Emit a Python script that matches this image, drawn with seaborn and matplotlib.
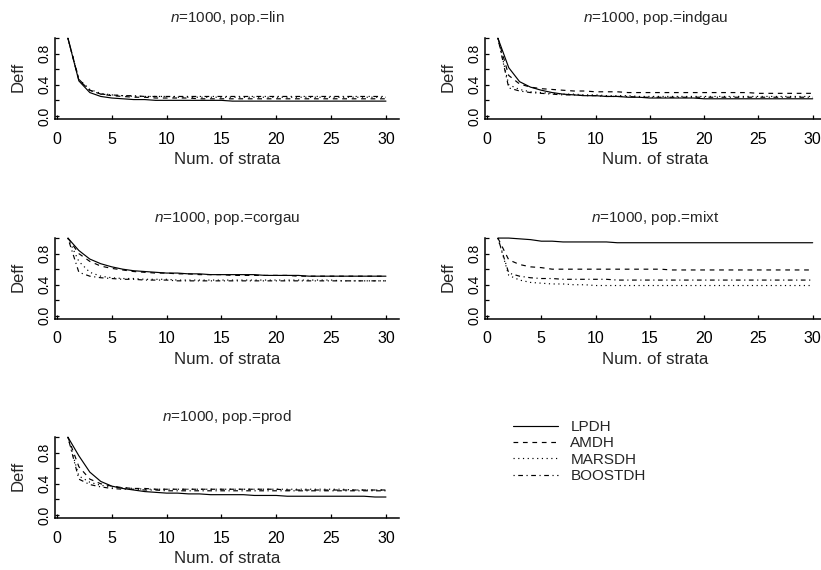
import matplotlib
matplotlib.use("Agg")
import matplotlib.pyplot as plt
from matplotlib.lines import Line2D
import seaborn as sns
import pandas as pd

strata = list(range(1, 31))
methods = ["LPDH", "AMDH", "MARSDH", "BOOSTDH"]
populations = ["lin", "indgau", "corgau", "mixt", "prod"]

# Deff per number of strata
lin_lpdh = [1.00, 0.45, 0.30, 0.25, 0.23, 0.22, 0.21, 0.21, 0.20, 0.20, 0.20, 0.20, 0.20, 0.20, 0.20,
            0.19, 0.19, 0.19, 0.19, 0.19, 0.19, 0.19, 0.19, 0.19, 0.19, 0.19, 0.19, 0.19, 0.19, 0.19]
lin_amdh = [1.00, 0.46, 0.33, 0.28, 0.26, 0.25, 0.24, 0.24, 0.23, 0.23, 0.23, 0.23, 0.22, 0.22, 0.22,
            0.22, 0.22, 0.22, 0.22, 0.22, 0.22, 0.22, 0.22, 0.22, 0.22, 0.22, 0.22, 0.22, 0.22, 0.22]
lin_marsdh = [1.00, 0.47, 0.34, 0.29, 0.27, 0.26, 0.25, 0.25, 0.25, 0.25, 0.24, 0.24, 0.24, 0.24, 0.24,
              0.24, 0.24, 0.24, 0.24, 0.24, 0.24, 0.24, 0.24, 0.24, 0.24, 0.24, 0.24, 0.24, 0.24, 0.24]
lin_boostdh = [1.00, 0.47, 0.33, 0.28, 0.27, 0.26, 0.26, 0.25, 0.25, 0.25, 0.25, 0.25, 0.25, 0.25, 0.25,
               0.25, 0.25, 0.25, 0.25, 0.25, 0.25, 0.25, 0.25, 0.25, 0.25, 0.25, 0.25, 0.25, 0.25, 0.25]

indgau_lpdh = [1.00, 0.62, 0.44, 0.37, 0.33, 0.30, 0.28, 0.27, 0.26, 0.26, 0.25, 0.25, 0.24, 0.24, 0.23,
               0.23, 0.23, 0.23, 0.23, 0.22, 0.22, 0.22, 0.22, 0.22, 0.22, 0.22, 0.22, 0.22, 0.22, 0.22]
indgau_amdh = [1.00, 0.52, 0.41, 0.37, 0.35, 0.34, 0.33, 0.32, 0.32, 0.31, 0.31, 0.31, 0.30, 0.30, 0.30,
               0.30, 0.30, 0.30, 0.30, 0.30, 0.30, 0.30, 0.30, 0.30, 0.29, 0.29, 0.29, 0.29, 0.29, 0.29]
indgau_marsdh = [1.00, 0.40, 0.34, 0.31, 0.30, 0.29, 0.28, 0.28, 0.27, 0.27, 0.26, 0.26, 0.26, 0.25, 0.25,
                 0.25, 0.25, 0.25, 0.25, 0.25, 0.25, 0.25, 0.25, 0.25, 0.25, 0.25, 0.25, 0.25, 0.25, 0.25]
indgau_boostdh = [1.00, 0.36, 0.32, 0.30, 0.29, 0.28, 0.27, 0.27, 0.26, 0.26, 0.25, 0.25, 0.25, 0.24, 0.24,
                  0.24, 0.24, 0.24, 0.24, 0.24, 0.24, 0.24, 0.24, 0.24, 0.24, 0.24, 0.24, 0.24, 0.24, 0.24]

corgau_lpdh = [1.00, 0.84, 0.73, 0.67, 0.63, 0.60, 0.58, 0.57, 0.56, 0.55, 0.55, 0.54, 0.54, 0.53, 0.53,
               0.53, 0.53, 0.53, 0.52, 0.52, 0.52, 0.52, 0.51, 0.51, 0.51, 0.51, 0.51, 0.51, 0.51, 0.51]
corgau_amdh = [1.00, 0.80, 0.70, 0.64, 0.61, 0.59, 0.57, 0.56, 0.55, 0.55, 0.54, 0.54, 0.53, 0.53, 0.53,
               0.52, 0.52, 0.52, 0.52, 0.52, 0.52, 0.51, 0.51, 0.51, 0.51, 0.51, 0.51, 0.51, 0.51, 0.51]
corgau_marsdh = [1.00, 0.70, 0.56, 0.51, 0.49, 0.48, 0.48, 0.47, 0.47, 0.47, 0.46, 0.46, 0.46, 0.46, 0.46,
                 0.46, 0.46, 0.46, 0.46, 0.46, 0.46, 0.46, 0.46, 0.46, 0.46, 0.45, 0.45, 0.45, 0.45, 0.45]
corgau_boostdh = [1.00, 0.56, 0.51, 0.49, 0.48, 0.47, 0.47, 0.46, 0.46, 0.46, 0.45, 0.45, 0.45, 0.45, 0.45,
                  0.45, 0.45, 0.45, 0.45, 0.45, 0.45, 0.45, 0.45, 0.45, 0.45, 0.45, 0.45, 0.45, 0.45, 0.45]

mixt_lpdh = [1.00, 1.00, 0.99, 0.98, 0.96, 0.96, 0.95, 0.95, 0.95, 0.95, 0.95, 0.94, 0.94, 0.94, 0.94,
             0.94, 0.94, 0.94, 0.94, 0.94, 0.94, 0.94, 0.94, 0.94, 0.94, 0.94, 0.94, 0.94, 0.94, 0.94]
mixt_amdh = [1.00, 0.72, 0.66, 0.63, 0.62, 0.60, 0.60, 0.60, 0.60, 0.60, 0.60, 0.60, 0.60, 0.60, 0.60,
             0.60, 0.59, 0.59, 0.59, 0.59, 0.59, 0.59, 0.59, 0.59, 0.59, 0.59, 0.59, 0.59, 0.59, 0.59]
mixt_marsdh = [1.00, 0.52, 0.46, 0.43, 0.42, 0.41, 0.41, 0.40, 0.40, 0.39, 0.39, 0.39, 0.39, 0.39, 0.39,
               0.39, 0.39, 0.39, 0.39, 0.39, 0.39, 0.39, 0.39, 0.39, 0.39, 0.39, 0.39, 0.39, 0.39, 0.39]
mixt_boostdh = [1.00, 0.55, 0.51, 0.49, 0.48, 0.48, 0.47, 0.47, 0.47, 0.47, 0.47, 0.46, 0.46, 0.46, 0.46,
                0.46, 0.46, 0.46, 0.46, 0.46, 0.46, 0.46, 0.46, 0.46, 0.46, 0.46, 0.46, 0.46, 0.46, 0.46]

prod_lpdh = [1.00, 0.76, 0.55, 0.43, 0.37, 0.34, 0.32, 0.30, 0.29, 0.28, 0.28, 0.27, 0.27, 0.26, 0.26,
             0.26, 0.26, 0.25, 0.25, 0.25, 0.24, 0.24, 0.24, 0.24, 0.24, 0.24, 0.24, 0.24, 0.23, 0.23]
prod_amdh = [1.00, 0.62, 0.46, 0.40, 0.37, 0.35, 0.34, 0.34, 0.33, 0.33, 0.33, 0.33, 0.33, 0.33, 0.33,
             0.33, 0.33, 0.33, 0.33, 0.33, 0.32, 0.32, 0.32, 0.32, 0.32, 0.32, 0.32, 0.32, 0.32, 0.32]
prod_marsdh = [1.00, 0.50, 0.42, 0.38, 0.36, 0.35, 0.34, 0.33, 0.33, 0.33, 0.33, 0.33, 0.33, 0.33, 0.33,
               0.33, 0.33, 0.33, 0.33, 0.33, 0.33, 0.33, 0.33, 0.33, 0.33, 0.33, 0.32, 0.32, 0.32, 0.32]
prod_boostdh = [1.00, 0.46, 0.39, 0.36, 0.34, 0.33, 0.33, 0.32, 0.32, 0.31, 0.31, 0.31, 0.31, 0.31, 0.31,
                0.31, 0.31, 0.31, 0.31, 0.31, 0.31, 0.31, 0.31, 0.31, 0.31, 0.31, 0.31, 0.31, 0.31, 0.31]

series = {
    "lin": [lin_lpdh, lin_amdh, lin_marsdh, lin_boostdh],
    "indgau": [indgau_lpdh, indgau_amdh, indgau_marsdh, indgau_boostdh],
    "corgau": [corgau_lpdh, corgau_amdh, corgau_marsdh, corgau_boostdh],
    "mixt": [mixt_lpdh, mixt_amdh, mixt_marsdh, mixt_boostdh],
    "prod": [prod_lpdh, prod_amdh, prod_marsdh, prod_boostdh],
}

rows = []
for pop in populations:
    for m, vals in zip(methods, series[pop]):
        for s, v in zip(strata, vals):
            rows.append({"pop": pop, "method": m, "strata": s, "deff": v})
df = pd.DataFrame(rows)

sns.set_theme(style="ticks")
plt.rcParams["font.family"] = ["Liberation Sans", "DejaVu Sans"]
plt.rcParams["mathtext.fontset"] = "custom"
plt.rcParams["mathtext.rm"] = "Liberation Sans"
plt.rcParams["mathtext.it"] = "Liberation Sans:italic"

dash_map = {"LPDH": "", "AMDH": (4, 4), "MARSDH": (1, 3), "BOOSTDH": (1, 3, 4, 3)}

fig = plt.figure(figsize=(8.21, 5.70), dpi=100)

# axes rectangles in figure fractions
boxes = {
    "lin": [0.0672, 0.7912, 0.4184, 0.1474],
    "indgau": [0.5911, 0.7912, 0.4141, 0.1474],
    "corgau": [0.0672, 0.4404, 0.4184, 0.1474],
    "mixt": [0.5911, 0.4404, 0.4141, 0.1474],
    "prod": [0.0672, 0.0912, 0.4184, 0.1474],
}

for pop in populations:
    ax = fig.add_axes(boxes[pop])
    sub = df[df["pop"] == pop]
    sns.lineplot(data=sub, x="strata", y="deff", style="method", style_order=methods,
                 dashes=dash_map, color="black", linewidth=0.85, legend=False, ax=ax)
    ax.set_xlim(-0.16, 31.16)
    ax.set_ylim(-0.04, 1.04)
    ax.set_xticks([0, 5, 10, 15, 20, 25, 30])
    ax.set_yticks([0, 0.2, 0.4, 0.6, 0.8, 1.0])
    ax.set_yticklabels(["0.0", "", "0.4", "", "0.8", ""], rotation=90, va="center")
    ax.tick_params(direction="in", length=3, width=0.9, colors="black")
    ax.tick_params(axis="x", labelsize=11.5, pad=9)
    ax.tick_params(axis="y", labelsize=10, pad=3)
    ax.spines["top"].set_visible(False)
    ax.spines["right"].set_visible(False)
    for sp in ["left", "bottom"]:
        ax.spines[sp].set_linewidth(1.1)
        ax.spines[sp].set_color("black")
    ax.spines["left"].set_bounds(-0.04, 1.0)
    ax.set_xlabel("Num. of strata", fontsize=12.2, labelpad=4)
    ax.set_ylabel("Deff", fontsize=12, labelpad=8)
    ax.set_title(r"$n$=1000, pop.=" + pop, fontsize=11, pad=9)

handles = [Line2D([], [], color="black", linewidth=0.85,
                  linestyle="-" if dash_map[m] == "" else (0, dash_map[m]))
           for m in methods]
fig.legend(handles, methods, loc="upper left", bbox_to_anchor=(0.625, 0.263),
           frameon=False, fontsize=11, handlelength=2.95, handletextpad=0.8,
           labelspacing=0.15, borderpad=0, borderaxespad=0)

fig.savefig("out.png", dpi=100)
